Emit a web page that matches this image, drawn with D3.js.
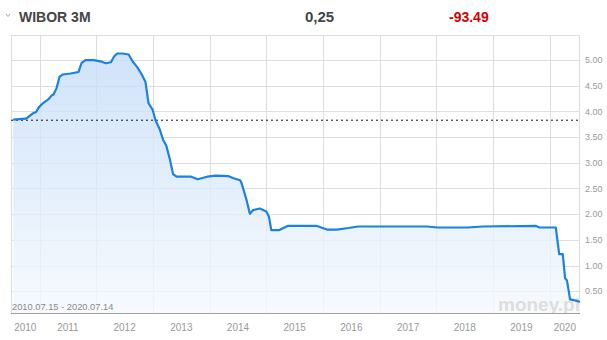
<!DOCTYPE html>
<html>
  <head>
    <meta charset="utf-8">
    <script src="https://d3js.org/d3.v7.min.js"></script>
    <style>
      body { margin: 0; background: #fff; font-family: "Liberation Sans", Arial, Helvetica, sans-serif; }
      .grid line { stroke: #dedede; stroke-width: 1; shape-rendering: crispEdges; }
      .ylab, .xlab { fill: #999; }
    </style>
  </head>
  <body>
    <svg id="chart" width="607" height="340"></svg>
    <script>
      // WIBOR 3M, 2010.07.15 - 2020.07.14
      var dates = [
        '2010-07-15','2010-10-03','2010-10-15','2010-11-17','2010-12-10','2010-12-27',
        '2011-01-22','2011-02-28','2011-03-19','2011-04-01','2011-04-20','2011-05-10',
        '2011-05-29','2011-07-19','2011-09-09','2011-09-28','2011-10-23','2011-12-14',
        '2012-02-06','2012-03-03','2012-04-05','2012-04-25','2012-05-15','2012-06-18',
        '2012-07-28','2012-08-24','2012-09-20','2012-10-17','2012-11-13','2012-12-03',
        '2012-12-30','2013-01-17','2013-02-11','2013-03-08','2013-03-27','2013-04-21',
        '2013-05-10','2013-06-02','2013-09-04','2013-10-15','2013-12-16','2014-02-08',
        '2014-05-03','2014-06-04','2014-07-16','2014-07-26','2014-08-27','2014-09-17',
        '2014-10-08','2014-11-20','2015-01-01','2015-01-18','2015-02-02','2015-03-26',
        '2015-05-18','2015-11-24','2016-01-26','2016-03-30','2016-06-13','2016-08-15',
        '2017-11-01','2018-01-07','2018-07-21','2018-10-27','2019-10-05','2019-10-27',
        '2020-02-09','2020-03-02','2020-03-25','2020-04-09','2020-04-21','2020-05-11',
        '2020-06-25','2020-07-14'
      ];
      var values = [
        3.84, 3.86, 3.88, 3.96, 3.99, 4.08,
        4.16, 4.24, 4.31, 4.33, 4.45, 4.68,
        4.72, 4.74, 4.77, 4.94, 5.00, 5.00,
        4.97, 4.94, 4.96, 5.07, 5.13, 5.13,
        5.11, 4.97, 4.87, 4.74, 4.58, 4.16,
        4.03, 3.83, 3.67, 3.44, 3.34, 3.05,
        2.78, 2.73, 2.73, 2.68, 2.73, 2.75,
        2.74, 2.70, 2.66, 2.60, 2.27, 2.01,
        2.08, 2.11, 2.05, 1.95, 1.69, 1.69,
        1.77, 1.77, 1.70, 1.70, 1.73, 1.76,
        1.76, 1.74, 1.74, 1.76, 1.77, 1.74,
        1.74, 1.22, 1.22, 0.75, 0.71, 0.34,
        0.31, 0.29
      ];
      var yTicks = [0.5, 1, 1.5, 2, 2.5, 3, 3.5, 4, 4.5, 5];
      var years = [2010, 2011, 2012, 2013, 2014, 2015, 2016, 2017, 2018, 2019, 2020];
      var startLevel = 3.83;
      var title = 'WIBOR 3M', lastValue = '0,25', change = '-93.49';
      var rangeLabel = '2010.07.15 - 2020.07.14';

      (function() {
        var parse = d3.timeParse('%Y-%m-%d');
        var data = dates.map(function(d, i) { return { date: parse(d), value: values[i] }; });

        var svg = d3.select('#chart');
        var pl = 11, pr = 580, pt = 35, pb = 313.5;

        var x = d3.scaleTime()
          .domain([parse('2010-07-01'), parse('2020-07-14')])
          .range([pl, pr]);
        var y = d3.scaleLinear()
          .domain([0.065, 5.49])
          .range([pb, pt]);

        var defs = svg.append('defs');
        var grad = defs.append('linearGradient')
          .attr('id', 'fill').attr('gradientUnits', 'userSpaceOnUse')
          .attr('x1', 0).attr('x2', 0).attr('y1', y(5.2)).attr('y2', pb);
        grad.append('stop').attr('offset', 0).attr('stop-color', '#c4dcf8');
        grad.append('stop').attr('offset', 1).attr('stop-color', '#f5f9fe');
        defs.append('clipPath').attr('id', 'plot')
          .append('rect').attr('x', pl).attr('y', pt)
          .attr('width', pr - pl).attr('height', pb - pt);

        // header
        svg.append('path')
          .attr('d', 'M6,14L8,16.5L10,14')
          .attr('fill', 'none').attr('stroke', '#aaa').attr('stroke-width', 1);
        svg.append('text').attr('x', 19).attr('y', 21.5)
          .attr('font-size', 14).attr('font-weight', 'bold').attr('fill', '#444').text(title);
        svg.append('text').attr('x', 305).attr('y', 21.5)
          .attr('font-size', 15).attr('font-weight', 'bold').attr('fill', '#444').text(lastValue);
        svg.append('text').attr('x', 449).attr('y', 21.5)
          .attr('font-size', 14).attr('font-weight', 'bold').attr('fill', '#d40000').text(change);

        var plot = svg.append('g').attr('clip-path', 'url(#plot)');

        // grid
        var grid = svg.append('g').attr('class', 'grid');
        grid.selectAll('.h').data(yTicks).enter().append('line')
          .attr('x1', pl).attr('x2', pr)
          .attr('y1', function(d) { return Math.round(y(d)) + 0.5; })
          .attr('y2', function(d) { return Math.round(y(d)) + 0.5; });
        grid.selectAll('.v').data(years.slice(1)).enter().append('line')
          .attr('y1', pt).attr('y2', pb)
          .attr('x1', function(d) { return Math.round(x(new Date(d, 0, 1))) + 0.5; })
          .attr('x2', function(d) { return Math.round(x(new Date(d, 0, 1))) + 0.5; });
        grid.append('line').attr('x1', pl).attr('x2', pr).attr('y1', pt + 0.5).attr('y2', pt + 0.5);
        grid.append('line').attr('x1', pl + 0.5).attr('x2', pl + 0.5).attr('y1', pt).attr('y2', pb);
        grid.append('line').attr('x1', pr - 0.5).attr('x2', pr - 0.5).attr('y1', pt).attr('y2', pb);

        // area + line
        var area = d3.area()
          .x(function(d) { return x(d.date); })
          .y0(pb)
          .y1(function(d) { return y(d.value); });
        var line = d3.line()
          .x(function(d) { return x(d.date); })
          .y(function(d) { return y(d.value); });

        var plotTop = svg.append('g').attr('clip-path', 'url(#plot)');

        plotTop.append('path').datum(data).attr('d', area)
          .attr('fill', 'url(#fill)').attr('fill-opacity', 0.8);

        // watermark
        plotTop.append('text').attr('x', 498).attr('y', 311)
          .attr('font-size', 19).attr('font-weight', 'bold').attr('fill', '#d6d6d6')
          .attr('fill-opacity', 0.8)
          .text('money.pl');

        plotTop.append('line')
          .attr('x1', pl).attr('x2', pr)
          .attr('y1', y(startLevel)).attr('y2', y(startLevel))
          .attr('stroke', '#111').attr('stroke-width', 1).attr('stroke-dasharray', '2,3');

        plotTop.append('path').datum(data).attr('d', line)
          .attr('fill', 'none').attr('stroke', '#1a82e2')
          .attr('stroke-width', 2.2).attr('stroke-linejoin', 'round');

        // bottom axis line
        svg.append('line').attr('x1', pl).attr('x2', pr)
          .attr('y1', pb).attr('y2', pb)
          .attr('stroke', '#a0a0a0').attr('stroke-width', 1);

        svg.append('text').attr('x', 12).attr('y', 309.5)
          .attr('font-size', 9.3).attr('fill', '#888').text(rangeLabel);

        // y labels
        svg.selectAll('.ylab').data(yTicks).enter().append('text')
          .attr('class', 'ylab')
          .attr('x', 585).attr('y', function(d) { return y(d); })
          .attr('dy', '0.35em').attr('font-size', 9)
          .text(d3.format('.2f'));

        // x labels, centred in the visible part of each year
        svg.selectAll('.xlab').data(years).enter().append('text')
          .attr('class', 'xlab')
          .attr('x', function(d) {
            var a = Math.max(x(new Date(d, 0, 1)), pl);
            var b = Math.min(x(new Date(d + 1, 0, 1)), pr);
            return (a + b) / 2;
          })
          .attr('y', 331).attr('text-anchor', 'middle').attr('font-size', 10)
          .text(function(d) { return d; });
      })();
    </script>
  </body>
</html>
